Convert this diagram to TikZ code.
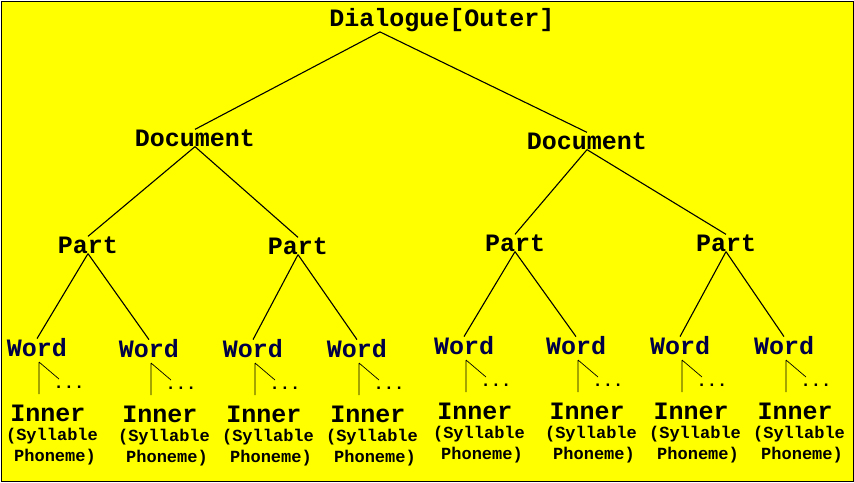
\documentclass[tikz,border=0pt]{standalone}
\usepackage{fontspec}
\setmonofont{Liberation Mono}
\definecolor{bgyellow}{RGB}{255,255,0}
\definecolor{wordblue}{RGB}{0,0,70}
\begin{document}
\begin{tikzpicture}[x=1pt, y=-1pt,
    big/.style={font=\ttfamily\bfseries\fontsize{25}{25}\selectfont, inner sep=0pt},
    small/.style={font=\ttfamily\bfseries\fontsize{17}{17}\selectfont, inner sep=0pt},
    edge/.style={line width=1.1pt}]
    \draw[fill=bgyellow, line width=1pt] (1,1) rectangle (853,481);
    \useasboundingbox (0,0) rectangle (854,482);

    \node[big] (root) at (442,20) {Dialogue[Outer]};
    \node[big] (docA) at (195,138) {Document};
    \node[big] (docB) at (587,141) {Document};
    \node[big] (partA) at (88,245) {Part};
    \node[big] (partB) at (298,246) {Part};
    \node[big] (partC) at (515,243) {Part};
    \node[big] (partD) at (726,243) {Part};
    \draw[edge] (root.south -| 380,0) -- (docA.north);
    \draw[edge] (root.south -| 380,0) -- (docB.north);
    \draw[edge] (docA.south) -- (partA.north);
    \draw[edge] (docA.south) -- (partB.north);
    \draw[edge] (docB.south) -- (partC.north);
    \draw[edge] (docB.south) -- (partD.north);

    \foreach \i/\x/\y/\p in {1/37/348/partA, 2/149/349/partA, 3/253/349/partB, 4/357/349/partB,
                             5/464/346/partC, 6/576/346/partC, 7/680/346/partD, 8/784/346/partD} {
      \node[big, text=wordblue] (word\i) at (\x,\y) {Word};
      \draw[edge] (\p.south) -- (word\i.north);
      \coordinate (top\i) at (\x+2,\y+14);
      \draw[line width=0.7pt] (top\i) -- ++(0,32) (top\i) -- ++(20,17);
      \node[small, anchor=center] (dots\i) at (\x+32,\y+39) {...};
      \node[big] (inner\i) at (\x+11,\y+65) {Inner};
      \node[small] (syl\i) at (\x+15,\y+88) {(Syllable};
      \node[small] (pho\i) at (\x+18,\y+109) {Phoneme)};
    }
\end{tikzpicture}
\end{document}
